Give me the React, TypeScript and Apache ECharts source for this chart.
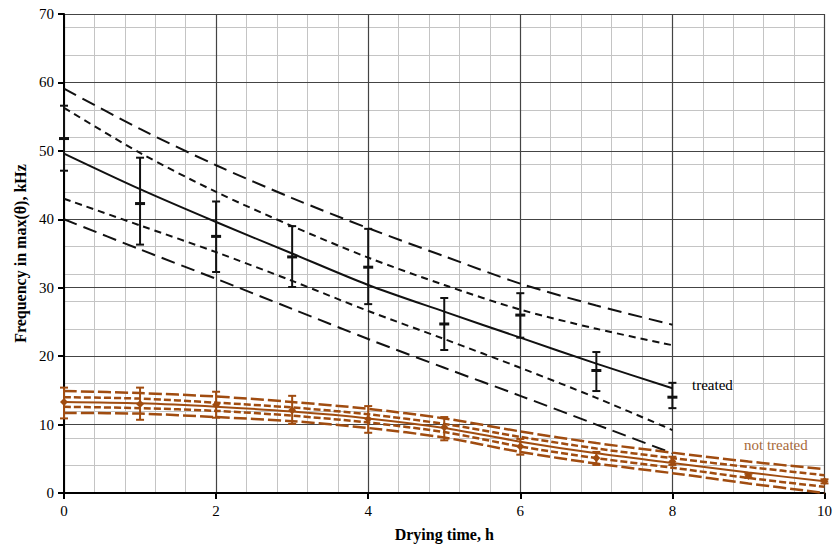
import React, { useEffect, useRef } from "react";
import * as echarts from "echarts";

// ---- treated (black) ----
const treatedX = [0, 1, 2, 3, 4, 5, 6, 7, 8];
const treatedFit = [49.6, 44.4, 39.6, 35.0, 30.4, 26.5, 22.7, 18.9, 15.3];
const treatedUpperOuter = [59.1, 53.2, 47.9, 43.1, 38.7, 34.6, 30.6, 27.4, 24.6];
const treatedUpperInner = [56.3, 49.7, 44.0, 39.0, 34.4, 30.4, 26.8, 24.0, 21.6];
const treatedLowerInner = [43.0, 39.1, 35.2, 31.0, 26.6, 22.5, 18.3, 13.9, 9.2];
const treatedLowerOuter = [40.0, 35.6, 31.3, 26.9, 22.5, 18.3, 14.2, 10.0, 5.8];
const treatedMean = [51.8, 42.3, 37.5, 34.5, 33.0, 24.7, 26.0, 17.9, 14.0];
const treatedLow = [47.1, 36.3, 32.3, 30.1, 27.6, 20.9, 22.7, 14.9, 12.4];
const treatedHigh = [56.6, 49.0, 42.6, 39.0, 38.6, 28.5, 29.2, 20.6, 16.1];

// ---- not treated (brown) ----
const notX = [0, 1, 2, 3, 4, 5, 6, 7, 8, 9, 10];
const notFit = [13.3, 13.1, 12.6, 11.9, 10.9, 9.5, 7.5, 5.8, 4.4, 3.0, 1.7];
const notUpperOuter = [14.9, 14.6, 14.1, 13.3, 12.3, 10.9, 9.0, 7.3, 5.9, 4.6, 3.5];
const notUpperInner = [14.0, 13.8, 13.2, 12.5, 11.5, 10.1, 8.2, 6.5, 5.1, 3.8, 2.6];
const notLowerInner = [12.6, 12.4, 12.0, 11.3, 10.3, 8.9, 6.8, 5.1, 3.7, 2.2, 0.9];
const notLowerOuter = [11.7, 11.6, 11.1, 10.5, 9.5, 8.1, 6.0, 4.3, 2.9, 1.4, 0.0];
const notMean = [13.3, 13.0, 12.9, 12.1, 10.8, 9.6, 6.8, 5.1, 4.6, 2.5, 1.7];
const notLow = [10.9, 10.7, 11.0, 10.1, 8.8, 7.7, 5.6, 4.1, 4.1, 2.2, 1.4];
const notHigh = [15.4, 15.4, 14.8, 14.2, 12.7, 11.1, 7.9, 6.0, 5.3, 2.8, 2.0];

const BLACK = "#111111";
const BROWN = "#a04c10";
const SERIF = "Liberation Serif";

const zip = (xs: number[], ys: number[]) => xs.map((x, i) => [x, ys[i]]);

function lineSeries(xs: number[], ys: number[], color: string, width: number, type: any) {
  return {
    type: "line",
    data: zip(xs, ys),
    smooth: 0.3,
    showSymbol: false,
    symbol: "none",
    silent: true,
    z: 3,
    lineStyle: { color, width, type },
  };
}

function errorSeries(xs: number[], m: number[], lo: number[], hi: number[], color: string, center: "dash" | "dot") {
  return {
    type: "custom",
    z: 5,
    silent: true,
    encode: { x: 0, y: [1, 2, 3] },
    data: xs.map((x, i) => [x, m[i], lo[i], hi[i]]),
    renderItem: (params: any, api: any) => {
      const x = api.value(0);
      const pM = api.coord([x, api.value(1)]);
      const pLo = api.coord([x, api.value(2)]);
      const pHi = api.coord([x, api.value(3)]);
      const st = { stroke: color, lineWidth: 2 };
      const cap = 4;
      const children: any[] = [
        { type: "line", shape: { x1: pHi[0], y1: pHi[1], x2: pLo[0], y2: pLo[1] }, style: st },
        { type: "line", shape: { x1: pHi[0] - cap, y1: pHi[1], x2: pHi[0] + cap, y2: pHi[1] }, style: st },
        { type: "line", shape: { x1: pLo[0] - cap, y1: pLo[1], x2: pLo[0] + cap, y2: pLo[1] }, style: st },
      ];
      if (center === "dash") {
        children.push({
          type: "line",
          shape: { x1: pM[0] - 5, y1: pM[1], x2: pM[0] + 5, y2: pM[1] },
          style: { stroke: color, lineWidth: 3 },
        });
      } else {
        children.push({
          type: "polygon",
          shape: {
            points: [
              [pM[0] - 4, pM[1]],
              [pM[0], pM[1] - 4],
              [pM[0] + 4, pM[1]],
              [pM[0], pM[1] + 4],
            ],
          },
          style: { fill: color },
        });
      }
      return { type: "group", children };
    },
  };
}

export default function App() {
  const ref = useRef<HTMLDivElement>(null);
  useEffect(() => {
    if (!ref.current) return;
    const chart = echarts.init(ref.current, undefined, { renderer: "svg" });
    const axisLabel = { color: "#000", fontFamily: SERIF, fontSize: 15 };
    chart.setOption({
      animation: false,
      backgroundColor: "#ffffff",
      grid: { left: 64, right: 7, top: 14, bottom: 56, containLabel: false },
      xAxis: [
        {
          type: "value",
          min: 0,
          max: 10,
          interval: 2,
          z: 2,
          axisLine: { show: true, onZero: false, lineStyle: { color: "#000", width: 2 } },
          axisTick: { show: true, inside: false, length: 6, lineStyle: { color: "#000", width: 2 } },
          axisLabel: { ...axisLabel, margin: 10 },
          splitLine: { show: true, lineStyle: { color: "#444444", width: 1.2 } },
          name: "Drying time, h",
          nameLocation: "middle",
          nameGap: 33,
          nameTextStyle: { color: "#000", fontFamily: SERIF, fontSize: 16, fontWeight: "bold" },
        },
        {
          type: "value",
          min: 0,
          max: 10,
          interval: 0.4,
          position: "bottom",
          z: 0,
          axisLine: { show: false },
          axisTick: { show: false },
          axisLabel: { show: false },
          splitLine: { show: true, lineStyle: { color: "#c4c4c4", width: 1 } },
        },
      ],
      yAxis: [
        {
          type: "value",
          min: 0,
          max: 70,
          interval: 10,
          z: 2,
          axisLine: { show: true, onZero: false, lineStyle: { color: "#000", width: 2 } },
          axisTick: { show: true, inside: false, length: 6, lineStyle: { color: "#000", width: 2 } },
          axisLabel: { ...axisLabel, margin: 10 },
          splitLine: { show: true, lineStyle: { color: "#444444", width: 1.2 } },
          name: "Frequency in max(θ), kHz",
          nameLocation: "middle",
          nameGap: 36,
          nameTextStyle: { color: "#000", fontFamily: SERIF, fontSize: 16, fontWeight: "bold" },
        },
        {
          type: "value",
          min: 0,
          max: 70,
          interval: 4,
          position: "left",
          z: 0,
          axisLine: { show: false },
          axisTick: { show: false },
          axisLabel: { show: false },
          splitLine: { show: true, lineStyle: { color: "#c4c4c4", width: 1 } },
        },
      ],
      series: [
        lineSeries(treatedX, treatedUpperOuter, BLACK, 2, [14, 7]),
        lineSeries(treatedX, treatedLowerOuter, BLACK, 2, [14, 7]),
        lineSeries(treatedX, treatedUpperInner, BLACK, 2, [7, 5]),
        lineSeries(treatedX, treatedLowerInner, BLACK, 2, [7, 5]),
        lineSeries(treatedX, treatedFit, BLACK, 2, "solid"),
        errorSeries(treatedX, treatedMean, treatedLow, treatedHigh, BLACK, "dash"),
        lineSeries(notX, notUpperOuter, BROWN, 2.5, [13, 4]),
        lineSeries(notX, notLowerOuter, BROWN, 2.5, [13, 4]),
        lineSeries(notX, notUpperInner, BROWN, 2.5, [7, 3]),
        lineSeries(notX, notLowerInner, BROWN, 2.5, [7, 3]),
        lineSeries(notX, notFit, BROWN, 2, "solid"),
        errorSeries(notX, notMean, notLow, notHigh, BROWN, "dot"),
      ],
      graphic: [
        {
          type: "text",
          left: 692,
          top: 377,
          z: 10,
          style: { text: "treated", fill: "#000", fontFamily: SERIF, fontSize: 15 },
        },
        {
          type: "text",
          left: 744,
          top: 437,
          z: 10,
          style: { text: "not treated", fill: "#a8693a", fontFamily: SERIF, fontSize: 15 },
        },
      ],
    });
    return () => chart.dispose();
  }, []);
  return (
    <div
      ref={ref}
      style={{ position: "fixed", left: 0, top: 0, width: 835, height: 549, background: "#fff" }}
    />
  );
}
